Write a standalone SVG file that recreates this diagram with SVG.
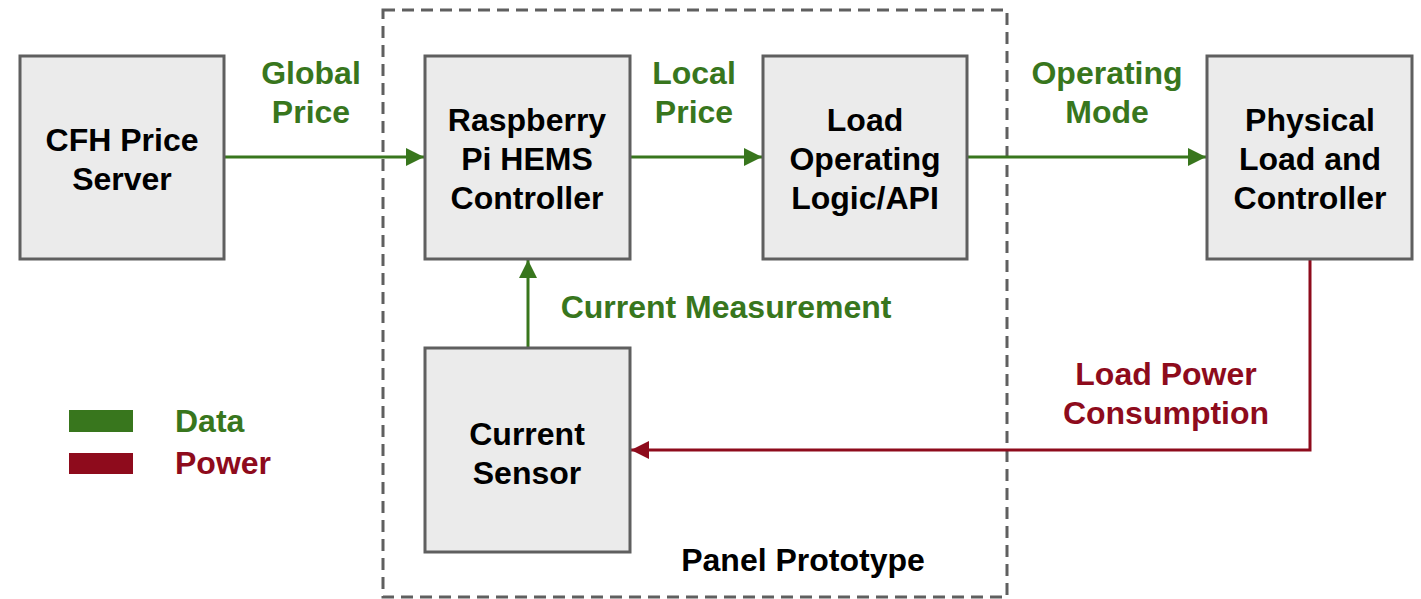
<svg xmlns="http://www.w3.org/2000/svg" width="1421" height="599" viewBox="0 0 1421 599">
<style>
.box{fill:#ebebeb;stroke:#5f5f5f;stroke-width:3}
.t{font-family:"Liberation Sans",Arial,sans-serif;font-weight:bold;font-size:32px;text-anchor:middle;fill:#000}
.g{fill:#38761d}
.r{fill:#8e0b1c}
.gl{stroke:#38761d;stroke-width:3;fill:none}
.rl{stroke:#8e0b1c;stroke-width:3;fill:none}
</style>
<defs>
<marker id="ag" viewBox="0 0 10 10" refX="10" refY="5" markerWidth="8" markerHeight="6" markerUnits="strokeWidth" orient="auto"><path d="M0,0L10,5L0,10z" fill="#38761d"/></marker>
<marker id="ar" viewBox="0 0 10 10" refX="10" refY="5" markerWidth="8" markerHeight="6" markerUnits="strokeWidth" orient="auto"><path d="M0,0L10,5L0,10z" fill="#8e0b1c"/></marker>
</defs>
<g id="panel">
<rect x="383" y="10" width="624" height="587" fill="none" stroke="#5f5f5f" stroke-width="3" stroke-dasharray="12 7"/>
<text class="t" x="803" y="571">Panel Prototype</text>
</g>
<g id="connectors">
<path class="gl" d="M224,157H424" marker-end="url(#ag)"/>
<path class="gl" d="M630,157H762" marker-end="url(#ag)"/>
<path class="gl" d="M967,157H1206" marker-end="url(#ag)"/>
<path class="gl" d="M528,348V260" marker-end="url(#ag)"/>
<path class="rl" d="M1310,259V450H631" marker-end="url(#ar)"/>
<text class="t g" x="311" y="84">Global</text>
<text class="t g" x="311" y="123">Price</text>
<text class="t g" x="694" y="84">Local</text>
<text class="t g" x="694" y="123">Price</text>
<text class="t g" x="1107" y="84">Operating</text>
<text class="t g" x="1107" y="123">Mode</text>
<text class="t g" x="726" y="318">Current Measurement</text>
<text class="t r" x="1166" y="385">Load Power</text>
<text class="t r" x="1166" y="424">Consumption</text>
</g>
<g id="cfh">
<rect class="box" x="20" y="56" width="204" height="203"/>
<text class="t" x="122" y="151">CFH Price</text>
<text class="t" x="122" y="190">Server</text>
</g>
<g id="rpi">
<rect class="box" x="425" y="56" width="205" height="203"/>
<text class="t" x="527" y="131">Raspberry</text>
<text class="t" x="527" y="170">Pi HEMS</text>
<text class="t" x="527" y="209">Controller</text>
</g>
<g id="logic">
<rect class="box" x="763" y="56" width="204" height="203"/>
<text class="t" x="865" y="131">Load</text>
<text class="t" x="865" y="170">Operating</text>
<text class="t" x="865" y="209">Logic/API</text>
</g>
<g id="physical">
<rect class="box" x="1207" y="56" width="205" height="203"/>
<text class="t" x="1310" y="131">Physical</text>
<text class="t" x="1310" y="170">Load and</text>
<text class="t" x="1310" y="209">Controller</text>
</g>
<g id="sensor">
<rect class="box" x="425" y="348" width="205" height="204"/>
<text class="t" x="527" y="445">Current</text>
<text class="t" x="527" y="484">Sensor</text>
</g>
<g id="legend">
<rect x="69" y="410" width="64" height="22" fill="#38761d"/>
<rect x="69" y="453" width="64" height="21" fill="#8e0b1c"/>
<text class="t g" x="175" y="432" style="text-anchor:start">Data</text>
<text class="t r" x="175" y="474" style="text-anchor:start">Power</text>
</g>
</svg>
